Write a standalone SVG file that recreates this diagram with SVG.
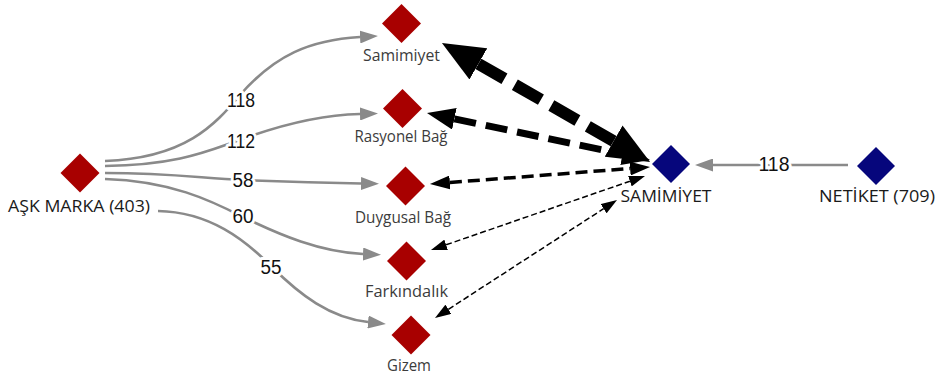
<svg xmlns="http://www.w3.org/2000/svg" width="936" height="378" viewBox="0 0 936 378">
<style>
.red{fill:#a80000}
.blue{fill:#06067c}
.g{fill:none;stroke:#8a8a8a;stroke-width:2.6}
.num{font-family:"Liberation Sans",Arial,sans-serif;font-size:20px;fill:#111;text-anchor:middle;stroke:#fff;stroke-width:6px;paint-order:stroke;stroke-linejoin:round}
.lbl{font-family:"Open Sans","Noto Sans",sans-serif;font-size:16px;fill:#3c3c3c;text-anchor:middle}
.lblk{font-family:"Open Sans","Noto Sans",sans-serif;font-size:17px;fill:#1a1a1a;text-anchor:middle}
.d{fill:none;stroke:#000}
</style>
<defs>
<marker id="ga" viewBox="0 0 18 13" refX="0" refY="6.5" markerWidth="18" markerHeight="13" markerUnits="userSpaceOnUse" orient="auto"><path d="M0,0L18,6.5L0,13Z" fill="#8a8a8a"/></marker>
<marker id="bb" viewBox="0 0 42 36" refX="0" refY="18" markerWidth="42" markerHeight="36" markerUnits="userSpaceOnUse" orient="auto-start-reverse"><path d="M0,0L42,18L0,36Z" fill="#000"/></marker>
<marker id="bm" viewBox="0 0 28 22" refX="0" refY="11" markerWidth="28" markerHeight="22" markerUnits="userSpaceOnUse" orient="auto-start-reverse"><path d="M0,0L28,11L0,22Z" fill="#000"/></marker>
<marker id="bs" viewBox="0 0 20 14" refX="0" refY="7" markerWidth="20" markerHeight="14" markerUnits="userSpaceOnUse" orient="auto-start-reverse"><path d="M0,0L20,7L0,14Z" fill="#000"/></marker>
<marker id="bt" viewBox="0 0 16 11" refX="0" refY="5.5" markerWidth="16" markerHeight="11" markerUnits="userSpaceOnUse" orient="auto-start-reverse"><path d="M0,0L16,5.5L0,11Z" fill="#000"/></marker>
</defs>
<g id="connectors">
<path class="g" d="M105,161 C185,158 215,125 240,95 C275,55 310,40 360,37" marker-end="url(#ga)"/>
<path class="g" d="M105,166 C180,165 210,150 240,140 C280,125 320,115 360,114" marker-end="url(#ga)"/>
<path class="g" d="M105,173 C170,173 200,178 243,180 C290,182 330,183 361,183.5" marker-end="url(#ga)"/>
<path class="g" d="M105,179 C170,181 210,200 243,217 C280,235 320,252 363,254" marker-end="url(#ga)"/>
<path class="g" d="M158,211 C210,212 245,240 271,266 C300,295 330,318 368,322" marker-end="url(#ga)"/>
<path class="g" d="M848,165 L713,165" marker-end="url(#ga)"/>
<path class="d" d="M478.4,63.9 L613.6,141.1" stroke-width="12" stroke-dasharray="30 12" marker-start="url(#bb)" marker-end="url(#bb)"/>
<path class="d" d="M454.4,118.8 L622.6,154.2" stroke-width="7" stroke-dasharray="22 10" marker-start="url(#bm)" marker-end="url(#bm)"/>
<path class="d" d="M449.9,182.5 L630.1,168.5" stroke-width="3.5" stroke-dasharray="12 6" marker-start="url(#bs)" marker-end="url(#bs)"/>
<path class="d" d="M446.1,244.8 L629.9,181.2" stroke-width="1.5" stroke-dasharray="6 3" marker-start="url(#bt)" marker-end="url(#bt)"/>
<path class="d" d="M448.4,309.3 L603.6,208.7" stroke-width="1.5" stroke-dasharray="6 3" marker-start="url(#bt)" marker-end="url(#bt)"/>
<text class="num" x="241" y="107" textLength="28" lengthAdjust="spacingAndGlyphs">118</text>
<text class="num" x="241" y="148" textLength="28" lengthAdjust="spacingAndGlyphs">112</text>
<text class="num" x="243" y="187" textLength="21" lengthAdjust="spacingAndGlyphs">58</text>
<text class="num" x="243" y="223" textLength="21" lengthAdjust="spacingAndGlyphs">60</text>
<text class="num" x="271" y="274" textLength="21" lengthAdjust="spacingAndGlyphs">55</text>
<text class="num" x="774" y="171" textLength="31" lengthAdjust="spacingAndGlyphs">118</text>
</g>
<g id="ask-marka">
<path class="red" d="M80,153.5L99.5,173L80,192.5L60.5,173Z"/>
<text class="lblk" x="79" y="212" textLength="142" lengthAdjust="spacingAndGlyphs">AŞK MARKA (403)</text>
</g>
<g id="samimiyet">
<path class="red" d="M401.5,4L421,23.5L401.5,43L382,23.5Z"/>
<text class="lbl" x="401.5" y="61" textLength="77" lengthAdjust="spacingAndGlyphs">Samimiyet</text>
</g>
<g id="rasyonel-bag">
<path class="red" d="M402.5,89L422,108.5L402.5,128L383,108.5Z"/>
<text class="lbl" x="401" y="142" textLength="93" lengthAdjust="spacingAndGlyphs">Rasyonel Bağ</text>
</g>
<g id="duygusal-bag">
<path class="red" d="M405.5,166.5L425,186L405.5,205.5L386,186Z"/>
<text class="lbl" x="403" y="223" textLength="96" lengthAdjust="spacingAndGlyphs">Duygusal Bağ</text>
</g>
<g id="farkindalik">
<path class="red" d="M406.5,241.5L426,261L406.5,280.5L387,261Z"/>
<text class="lbl" x="406.5" y="297" textLength="83" lengthAdjust="spacingAndGlyphs">Farkındalık</text>
</g>
<g id="gizem">
<path class="red" d="M411,315.5L430.5,335L411,354.5L391.5,335Z"/>
<text class="lbl" x="409" y="371" textLength="44" lengthAdjust="spacingAndGlyphs">Gizem</text>
</g>
<g id="samimiyet-main">
<path class="blue" d="M671,145L690,164L671,183L652,164Z"/>
<text class="lblk" x="666" y="202" textLength="91" lengthAdjust="spacingAndGlyphs">SAMİMİYET</text>
</g>
<g id="netiket">
<path class="blue" d="M876,147L895,166L876,185L857,166Z"/>
<text class="lblk" x="877" y="202" textLength="116" lengthAdjust="spacingAndGlyphs">NETİKET (709)</text>
</g>
</svg>
